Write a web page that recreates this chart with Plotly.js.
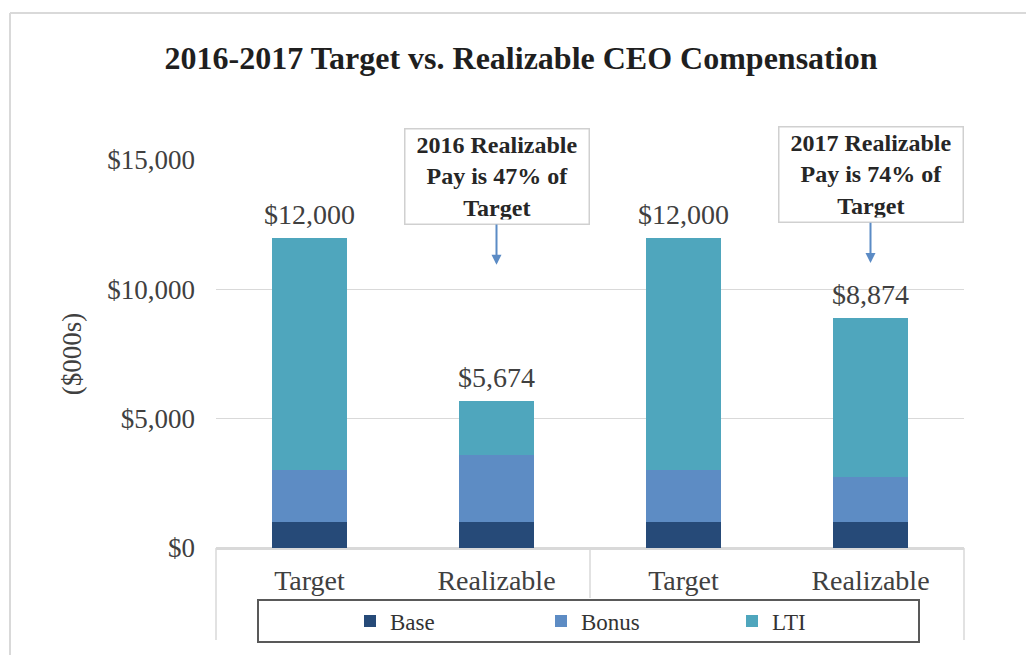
<!DOCTYPE html>
<html>
<head>
<meta charset="utf-8">
<script src="https://cdn.plot.ly/plotly-3.0.1.min.js"></script>
<style>html,body{margin:0;padding:0;background:#fff;}#chart{width:1026px;height:655px;}</style>
</head>
<body>
<div id="chart"></div>
<script>
// ---- Data ----
const categories = ['Target 2016', 'Realizable 2016', 'Target 2017', 'Realizable 2017'];
const tickLabels = ['Target', 'Realizable', 'Target', 'Realizable'];
const baseValues = [1000, 1000, 1000, 1000];
const bonusValues = [2000, 2600, 2000, 1750];
const ltiValues = [9000, 2074, 9000, 6124];
const seriesNames = ['Base', 'Bonus', 'LTI'];
const yTicks = [0, 5000, 10000, 15000];
const yTickLabels = ['$0', '$5,000', '$10,000', '$15,000'];
const calloutTexts = ['2016 Realizable<br>Pay is 47% of<br>Target', '2017 Realizable<br>Pay is 74% of<br>Target'];
const calloutTargets = ['Realizable 2016', 'Realizable 2017'];
const calloutTipValues = [10950, 11020];

const totals = categories.map((c, i) => baseValues[i] + bonusValues[i] + ltiValues[i]);
const totalLabels = totals.map(v => '$' + v.toLocaleString('en-US'));

const serif = '"Liberation Serif", "Times New Roman", serif';
const colors = ['#264a78', '#5d8cc4', '#4fa6bd'];

const traces = [
  {type: 'bar', name: seriesNames[0], x: categories, y: baseValues, marker: {color: colors[0]}, width: 0.4, hoverinfo: 'skip'},
  {type: 'bar', name: seriesNames[1], x: categories, y: bonusValues, marker: {color: colors[1]}, width: 0.4, hoverinfo: 'skip'},
  {type: 'bar', name: seriesNames[2], x: categories, y: ltiValues, marker: {color: colors[2]}, width: 0.4, hoverinfo: 'skip'}
];

// helpers for pixel -> paper
const L = 216, R = 964, T = 160, B = 548;
const px = x => (x - L) / (R - L);
const py = y => (B - y) / (B - T);
const grey = '#d9d9d9';

const shapes = [
  // outer frame
  {type: 'line', xref: 'paper', yref: 'paper', x0: px(10), x1: px(1030), y0: py(13), y1: py(13), line: {color: grey, width: 2}},
  {type: 'line', xref: 'paper', yref: 'paper', x0: px(10), x1: px(10), y0: py(13), y1: py(660), line: {color: grey, width: 2}},
  // category dividers
  {type: 'line', xref: 'paper', yref: 'paper', x0: 0, x1: 0, y0: 0, y1: py(640), line: {color: grey, width: 1.5}},
  {type: 'line', xref: 'paper', yref: 'paper', x0: 0.5, x1: 0.5, y0: 0, y1: py(598), line: {color: grey, width: 1.5}},
  {type: 'line', xref: 'paper', yref: 'paper', x0: 1, x1: 1, y0: 0, y1: py(640), line: {color: grey, width: 1.5}},
  // legend box
  {type: 'rect', xref: 'paper', yref: 'paper', x0: px(258), x1: px(919), y0: py(600), y1: py(642), line: {color: '#595959', width: 2}, fillcolor: 'rgba(0,0,0,0)'}
];

const totalAnnotations = categories.map((c, i) => ({
  x: c, y: totals[i], xref: 'x', yref: 'y', text: totalLabels[i], showarrow: false,
  yanchor: 'bottom', yshift: 6, font: {family: serif, size: 28, color: '#404040'}
}));

const calloutAnnotations = calloutTexts.map((t, i) => ({
  x: calloutTargets[i], y: calloutTipValues[i], xref: 'x', yref: 'y',
  text: '<b>' + t + '</b>', showarrow: true, arrowhead: 2, arrowsize: 1, arrowwidth: 2, arrowcolor: '#5b8bc5',
  ax: 0, ay: -88, bgcolor: '#ffffff', bordercolor: '#d0d0d0', borderwidth: 1.5, borderpad: 4,
  width: 175, height: 86, align: 'center',
  font: {family: serif, size: 24, color: '#262626'}
}));

const layout = {
  width: 1026, height: 655,
  margin: {l: L, r: 1026 - R, t: T, b: 655 - B},
  paper_bgcolor: '#ffffff', plot_bgcolor: '#ffffff',
  barmode: 'stack',
  title: {text: '<b>2016-2017 Target vs. Realizable CEO Compensation</b>', font: {family: serif, size: 32, color: '#1f1f1f'},
          x: 521 / 1026, xanchor: 'center', xref: 'container', y: 1 - 58 / 655, yanchor: 'middle'},
  xaxis: {type: 'category', tickvals: categories, ticktext: tickLabels, showgrid: false, showline: true, linecolor: grey, linewidth: 1.5,
          tickfont: {family: serif, size: 28, color: '#404040'}, ticks: '', ticklabelstandoff: 7, fixedrange: true},
  yaxis: {range: [0, 15000], tickvals: yTicks, ticktext: yTickLabels, showgrid: true, gridcolor: grey, gridwidth: 1.5,
          zeroline: true, zerolinecolor: grey, zerolinewidth: 1.5, showline: false,
          tickfont: {family: serif, size: 27, color: '#404040'}, ticks: '', ticklabelstandoff: 20,
          title: {text: '($000s)', font: {family: serif, size: 27, color: '#404040'}, standoff: 17}, fixedrange: true},
  showlegend: true,
  legend: {orientation: 'h', x: px(350), xanchor: 'left', y: py(621), yanchor: 'middle', traceorder: 'normal',
           font: {family: serif, size: 23, color: '#333333'}, entrywidth: 146, entrywidthmode: 'pixels', bgcolor: 'rgba(0,0,0,0)', borderwidth: 0},
  shapes: shapes,
  annotations: totalAnnotations.concat(calloutAnnotations)
};

Plotly.newPlot('chart', traces, layout, {displayModeBar: false, staticPlot: true});
</script>
</body>
</html>
